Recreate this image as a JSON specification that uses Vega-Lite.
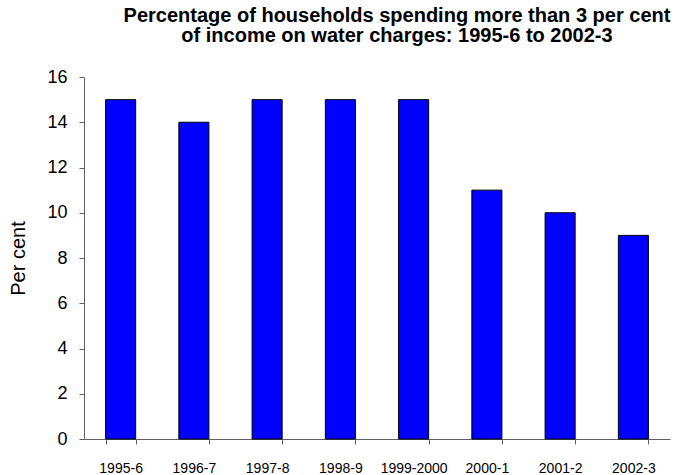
{
  "$schema": "https://vega.github.io/schema/vega-lite/v6.json",
  "width": 586,
  "height": 362,
  "autosize": {"type": "none"},
  "padding": {"left": 84, "top": 77, "right": 5, "bottom": 36},
  "background": "white",
  "title": {
    "text": ["Percentage of households spending more than 3 per cent", "of income on water charges: 1995-6 to 2002-3"],
    "font": "Liberation Sans",
    "fontSize": 20,
    "fontWeight": "bold",
    "color": "black",
    "anchor": "middle",
    "offset": 22,
    "dx": 20,
    "lineHeight": 20
  },
  "data": {
    "values": [
      {"year": "1995-6", "pct": 15},
      {"year": "1996-7", "pct": 14},
      {"year": "1997-8", "pct": 15},
      {"year": "1998-9", "pct": 15},
      {"year": "1999-2000", "pct": 15},
      {"year": "2000-1", "pct": 11},
      {"year": "2001-2", "pct": 10},
      {"year": "2002-3", "pct": 9}
    ]
  },
  "mark": {"type": "bar", "fill": "#0000FF", "stroke": "black", "strokeWidth": 1},
  "encoding": {
    "x": {
      "field": "year",
      "type": "nominal",
      "sort": null,
      "scale": {"paddingInner": 0.59, "paddingOuter": 0.295},
      "axis": {
        "title": null,
        "labelAngle": 0,
        "tickBand": "extent",
        "labelFont": "Liberation Sans",
        "labelFontSize": 14,
        "labelColor": "black",
        "labelPadding": 17,
        "tickSize": 5,
        "domainColor": "#606060",
        "tickColor": "#606060",
        "grid": false
      }
    },
    "y": {
      "field": "pct",
      "type": "quantitative",
      "scale": {"domain": [0, 16], "nice": false},
      "axis": {
        "title": "Per cent",
        "titleFont": "Liberation Sans",
        "titleFontSize": 20,
        "titleFontWeight": "normal",
        "titleColor": "black",
        "titlePadding": 18,
        "values": [0, 2, 4, 6, 8, 10, 12, 14, 16],
        "labelFont": "Liberation Sans",
        "labelFontSize": 18,
        "labelColor": "black",
        "labelPadding": 12,
        "tickSize": 5,
        "domainColor": "#606060",
        "tickColor": "#606060",
        "grid": false
      }
    }
  },
  "config": {"view": {"stroke": null}}
}
